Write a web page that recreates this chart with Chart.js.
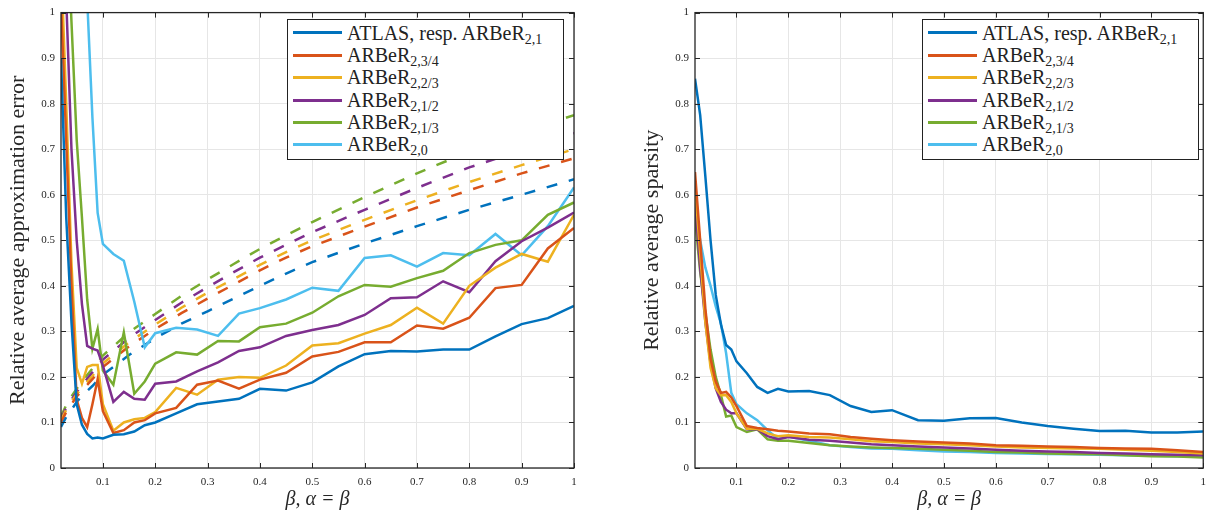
<!DOCTYPE html>
<html lang="en">
<head>
<meta charset="UTF-8">
<title>ARBeR approximation error and sparsity</title>
<script src="https://cdn.jsdelivr.net/npm/chart.js"></script>
<style>
  body { margin: 0; background: #fff; width: 1214px; height: 518px; position: relative; overflow: hidden; }
  canvas { position: absolute; top: 0; }
  .legend { position: absolute; top: 19px; width: 277px; height: 141px; box-sizing: border-box;
            border: 1px solid #222; background: #fff; padding: 1.8px 4px 0 5px;
            font-family: 'Liberation Serif', serif; font-size: 20px; color: #222; }
  .legend .row { display: flex; align-items: center; height: 22.4px; white-space: nowrap; }
  .legend .swatch { width: 49px; height: 3px; margin-right: 5px; flex: none; }
  .legend sub { font-size: 14px; vertical-align: -4px; line-height: 0; }
</style>
</head>
<body>

<canvas id="errChart" width="590" height="518" style="left:0"></canvas>
<canvas id="spChart" width="600" height="518" style="left:614px"></canvas>
<div class="legend" id="errLegend" style="left:287px"></div>
<div class="legend" id="spLegend" style="left:922px"></div>

<script>
  // beta values (x axis), same grid for every measured curve
  const betas = [0.02, 0.03, 0.04, 0.05, 0.06, 0.07, 0.08, 0.09, 0.1, 0.12, 0.14, 0.16, 0.18, 0.2,
                 0.24, 0.28, 0.32, 0.36, 0.4, 0.45, 0.5, 0.55, 0.6, 0.65, 0.7, 0.75, 0.8, 0.85, 0.9, 0.95, 1];

  // left panel: relative average approximation error (solid)
  const errAtlas = [0.9, 0.55, 0.32, 0.14, 0.095, 0.075, 0.065, 0.067, 0.065, 0.073, 0.074, 0.08, 0.094, 0.1,
                    0.12, 0.14, 0.146, 0.152, 0.174, 0.17, 0.188, 0.223, 0.25, 0.257, 0.256, 0.26, 0.26, 0.289, 0.316, 0.329, 0.356];
  const err34 = [1.02, 0.72, 0.4, 0.15, 0.11, 0.09, 0.14, 0.195, 0.125, 0.077, 0.083, 0.1, 0.105, 0.12,
                 0.132, 0.183, 0.192, 0.174, 0.194, 0.209, 0.245, 0.255, 0.276, 0.276, 0.313, 0.306, 0.33, 0.395, 0.402, 0.482, 0.527];
  const err23 = [1.12, 0.8, 0.45, 0.22, 0.185, 0.222, 0.226, 0.226, 0.14, 0.082, 0.1, 0.107, 0.11, 0.123,
                 0.176, 0.161, 0.194, 0.2, 0.198, 0.225, 0.269, 0.274, 0.295, 0.314, 0.352, 0.317, 0.4, 0.44, 0.47, 0.453, 0.556];
  const err12 = [1.3, 1.03, 0.7, 0.5, 0.36, 0.268, 0.262, 0.258, 0.225, 0.145, 0.167, 0.152, 0.15, 0.185,
                 0.19, 0.212, 0.232, 0.257, 0.265, 0.29, 0.303, 0.314, 0.336, 0.373, 0.375, 0.41, 0.386, 0.454, 0.498, 0.528, 0.561];
  const err13 = [1.5, 1.25, 0.98, 0.72, 0.55, 0.37, 0.262, 0.305, 0.214, 0.183, 0.298, 0.163, 0.19, 0.229,
                 0.254, 0.249, 0.279, 0.278, 0.309, 0.317, 0.341, 0.377, 0.402, 0.398, 0.417, 0.433, 0.472, 0.49, 0.5, 0.556, 0.583];
  const err0 = [1.8, 1.7, 1.6, 1.5, 1.3, 1.03, 0.77, 0.56, 0.492, 0.47, 0.455, 0.365, 0.265, 0.296,
                0.308, 0.304, 0.29, 0.339, 0.351, 0.37, 0.396, 0.389, 0.461, 0.467, 0.442, 0.472, 0.467, 0.514, 0.467, 0.531, 0.616];

  // left panel: theoretical bounds (dashed)
  const boundBetas = [0.02, 0.03, 0.04, 0.05, 0.06, 0.08, 0.1, 0.12, 0.15, 0.2, 0.25, 0.3, 0.35, 0.4, 0.45, 0.5, 0.6, 0.7, 0.8, 0.9, 1];
  const bndAtlas = [0.09, 0.112, 0.128, 0.145, 0.158, 0.18, 0.205, 0.222, 0.248, 0.285, 0.317, 0.344, 0.372, 0.4, 0.427, 0.452, 0.493, 0.531, 0.567, 0.6, 0.634];
  const bnd34 = [0.1, 0.123, 0.14, 0.157, 0.17, 0.195, 0.222, 0.24, 0.267, 0.305, 0.34, 0.372, 0.403, 0.434, 0.462, 0.487, 0.53, 0.572, 0.61, 0.647, 0.68];
  const bnd23 = [0.105, 0.128, 0.146, 0.162, 0.176, 0.202, 0.23, 0.248, 0.276, 0.315, 0.352, 0.385, 0.415, 0.446, 0.474, 0.5, 0.545, 0.588, 0.628, 0.665, 0.7];
  const bnd12 = [0.108, 0.132, 0.15, 0.167, 0.182, 0.21, 0.238, 0.257, 0.286, 0.325, 0.363, 0.397, 0.43, 0.462, 0.49, 0.518, 0.567, 0.615, 0.66, 0.698, 0.735];
  const bnd13 = [0.113, 0.138, 0.157, 0.174, 0.19, 0.218, 0.247, 0.267, 0.298, 0.338, 0.378, 0.414, 0.448, 0.481, 0.511, 0.54, 0.595, 0.647, 0.695, 0.737, 0.775];

  // right panel: relative average sparsity
  const spAtlas = [0.855, 0.775, 0.64, 0.5, 0.38, 0.315, 0.27, 0.26, 0.234, 0.208, 0.178, 0.165, 0.174, 0.168,
                   0.169, 0.16, 0.136, 0.123, 0.127, 0.105, 0.104, 0.109, 0.11, 0.1, 0.092, 0.086, 0.081, 0.082, 0.078, 0.078, 0.08];
  const sp34 = [0.65, 0.5, 0.35, 0.24, 0.19, 0.165, 0.167, 0.155, 0.136, 0.092, 0.088, 0.085, 0.082, 0.08,
                0.076, 0.074, 0.068, 0.064, 0.061, 0.058, 0.056, 0.054, 0.05, 0.049, 0.047, 0.046, 0.044, 0.043, 0.042, 0.039, 0.035];
  const sp23 = [0.62, 0.47, 0.32, 0.22, 0.175, 0.16, 0.16, 0.145, 0.12, 0.086, 0.086, 0.076, 0.07, 0.072,
                0.068, 0.067, 0.063, 0.059, 0.057, 0.054, 0.052, 0.05, 0.047, 0.045, 0.044, 0.043, 0.042, 0.04, 0.038, 0.035, 0.032];
  const sp12 = [0.585, 0.44, 0.32, 0.23, 0.175, 0.145, 0.128, 0.12, 0.12, 0.085, 0.085, 0.07, 0.063, 0.068,
                0.062, 0.06, 0.056, 0.052, 0.05, 0.047, 0.045, 0.043, 0.04, 0.038, 0.036, 0.035, 0.033, 0.032, 0.03, 0.029, 0.028];
  const sp13 = [0.55, 0.43, 0.34, 0.26, 0.2, 0.16, 0.113, 0.115, 0.09, 0.079, 0.085, 0.063, 0.06, 0.06,
                0.055, 0.05, 0.047, 0.045, 0.044, 0.042, 0.04, 0.038, 0.035, 0.034, 0.032, 0.031, 0.03, 0.028, 0.026, 0.025, 0.023];
  const sp0 = [0.575, 0.5, 0.44, 0.4, 0.355, 0.317, 0.252, 0.165, 0.14, 0.12, 0.105, 0.083, 0.064, 0.069,
               0.06, 0.05, 0.046, 0.043, 0.042, 0.039, 0.036, 0.035, 0.033, 0.032, 0.031, 0.03, 0.029, 0.028, 0.027, 0.026, 0.025];

  const seriesNames = ['ATLAS, resp. ARBeR', 'ARBeR', 'ARBeR', 'ARBeR', 'ARBeR', 'ARBeR'];
  const seriesSubs = ['2,1', '2,3/4', '2,2/3', '2,1/2', '2,1/3', '2,0'];
  const colors = ['#0072BD', '#D95319', '#EDB120', '#7E2F8E', '#77AC30', '#4DBEEE'];

  const xTicks = [0.1, 0.2, 0.3, 0.4, 0.5, 0.6, 0.7, 0.8, 0.9, 1];
  const yTicks = [0, 0.1, 0.2, 0.3, 0.4, 0.5, 0.6, 0.7, 0.8, 0.9, 1];

  const serif = "'Liberation Serif', serif";
  const axisColor = '#262626';

  function pts(xs, ys) {
    return xs.map((x, i) => ({ x: x, y: ys[i] }));
  }

  // box around the plot area plus small inward tick marks (matlab look)
  const frame = {
    id: 'frame',
    afterDraw(chart) {
      const { ctx, chartArea: a, scales } = chart;
      ctx.save();
      ctx.strokeStyle = axisColor;
      ctx.lineWidth = 1;
      ctx.beginPath();
      xTicks.forEach(v => {
        const px = Math.round(scales.x.getPixelForValue(v)) + 0.5;
        ctx.moveTo(px, a.bottom); ctx.lineTo(px, a.bottom - 5);
        ctx.moveTo(px, a.top); ctx.lineTo(px, a.top + 5);
      });
      yTicks.forEach(v => {
        const py = Math.round(scales.y.getPixelForValue(v)) + 0.5;
        ctx.moveTo(a.left, py); ctx.lineTo(a.left + 5, py);
        ctx.moveTo(a.right, py); ctx.lineTo(a.right - 5, py);
      });
      ctx.stroke();
      ctx.lineWidth = 1.3;
      ctx.strokeRect(a.left, a.top, a.right - a.left, a.bottom - a.top);
      ctx.restore();
    }
  };

  function makeChart(id, solid, dashed, yTitle, yWidth, yTitlePad, padRight) {
    const datasets = [];
    solid.forEach((ys, i) => {
      datasets.push({ data: pts(betas, ys), borderColor: colors[i], borderWidth: 2.5 });
    });
    dashed.forEach((ys, i) => {
      datasets.push({ data: pts(boundBetas, ys), borderColor: colors[i], borderWidth: 2.5, borderDash: [11, 12] });
    });

    return new Chart(document.getElementById(id), {
      type: 'line',
      data: { datasets: datasets },
      plugins: [frame],
      options: {
        responsive: false,
        animation: false,
        layout: { padding: { top: 10, right: padRight, left: 0, bottom: 0 } },
        elements: { point: { radius: 0 }, line: { tension: 0, fill: false } },
        plugins: { legend: { display: false }, tooltip: { enabled: false } },
        scales: {
          x: {
            type: 'linear', min: 0.02, max: 1,
            afterBuildTicks: s => { s.ticks = xTicks.map(v => ({ value: v })); },
            afterFit: s => { s.height = 50; },
            grid: { color: '#e6e6e6', drawTicks: false },
            border: { display: false },
            ticks: { padding: 8, color: axisColor, font: { family: serif, size: 11 }, callback: v => String(v) },
            title: { display: true, text: 'β, α = β', color: axisColor,
                     font: { family: serif, size: 20, style: 'italic', lineHeight: 1 }, padding: { top: 0, bottom: 8 } }
          },
          y: {
            min: 0, max: 1,
            afterBuildTicks: s => { s.ticks = yTicks.map(v => ({ value: v })); },
            afterFit: s => { s.width = yWidth; },
            grid: { color: '#e6e6e6', drawTicks: false },
            border: { display: false },
            ticks: { padding: 6, color: axisColor, font: { family: serif, size: 11 }, callback: v => String(v) },
            title: { display: true, text: yTitle, color: axisColor,
                     font: { family: serif, size: 22, lineHeight: 1 }, padding: { top: yTitlePad, bottom: 0 } }
          }
        }
      }
    });
  }

  makeChart('errChart', [errAtlas, err34, err23, err12, err13, err0],
            [bndAtlas, bnd34, bnd23, bnd12, bnd13],
            'Relative average approximation error', 61, 7, 16);
  makeChart('spChart', [spAtlas, sp34, sp23, sp12, sp13, sp0], [],
            'Relative average sparsity', 81, 27, 7);

  function buildLegend(id) {
    const box = document.getElementById(id);
    seriesNames.forEach((name, i) => {
      const row = document.createElement('div');
      row.className = 'row';
      const sw = document.createElement('span');
      sw.className = 'swatch';
      sw.style.background = colors[i];
      const txt = document.createElement('span');
      txt.innerHTML = name + '<sub>' + seriesSubs[i] + '</sub>';
      row.appendChild(sw);
      row.appendChild(txt);
      box.appendChild(row);
    });
  }
  buildLegend('errLegend');
  buildLegend('spLegend');
</script>

</body>
</html>
